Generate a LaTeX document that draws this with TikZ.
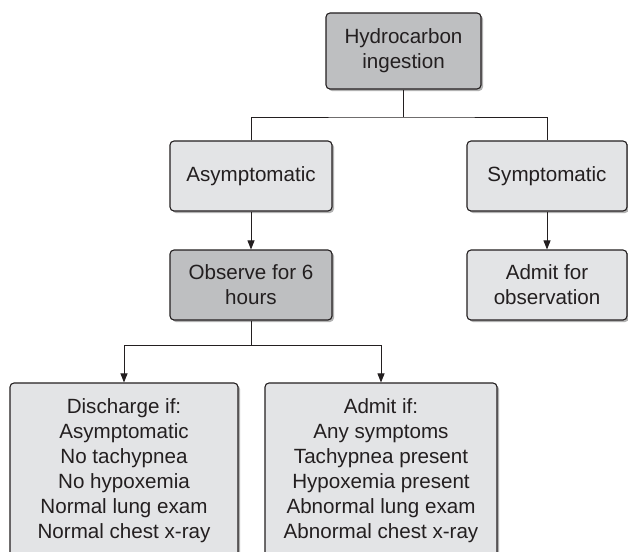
\documentclass[tikz,border=0pt]{standalone}
\usepackage{fontspec}
\setmainfont{Liberation Sans}
\usetikzlibrary{arrows.meta,shadows}
\definecolor{lightbox}{RGB}{227,228,230}
\definecolor{darkbox}{RGB}{190,191,193}
\definecolor{edge}{RGB}{35,31,32}
\begin{document}
\begin{tikzpicture}[x=1pt,y=-1pt,
  box/.style={draw=edge, line width=1.1pt, rounded corners=4pt, fill=lightbox,
    align=center, inner sep=0pt, text=edge,
    font=\fontsize{20.6}{25}\selectfont,
    drop shadow={shadow xshift=2pt,shadow yshift=-2pt,fill=black,opacity=0.3}},
  darkfill/.style={fill=darkbox},
  conn/.style={draw=edge, line width=0.9pt},
  arr/.style={conn,-{Triangle[length=9pt,width=7pt]}}]
\useasboundingbox (0,0) rectangle (628,551);
\fill[white] (0,0) rectangle (628,551);
\clip (0,0) rectangle (628,551);
\node[box,darkfill,minimum width=155pt,minimum height=76pt] (hc) at (403.5,51) {Hydrocarbon\\ingestion};
\node[box,minimum width=162pt,minimum height=70pt] (asym) at (251,176) {Asymptomatic};
\node[box,minimum width=160pt,minimum height=70pt] (sym) at (547,176) {Symptomatic};
\node[box,darkfill,minimum width=162pt,minimum height=70pt] (obs) at (251,285) {Observe for 6\\hours};
\node[box,minimum width=160pt,minimum height=70pt] (admobs) at (547,285) {Admit for\\observation};
\node[box,minimum width=228pt,minimum height=175pt] (dis) at (124,470.5) {Discharge if:\\Asymptomatic\\No tachypnea\\No hypoxemia\\Normal lung exam\\Normal chest x-ray};
\node[box,minimum width=232pt,minimum height=175pt] (adm) at (381,470.5) {Admit if:\\Any symptoms\\Tachypnea present\\Hypoxemia present\\Abnormal lung exam\\Abnormal chest x-ray};
\coordinate (j1) at (403.5,117);
\coordinate (j2) at (251,345);
\draw[conn] (hc.south) -- (j1);
\draw[conn] (asym.north) |- (j1) -| (sym.north);
\draw[arr] (asym) -- (obs);
\draw[arr] (sym) -- (admobs);
\draw[conn] (obs.south) -- (j2);
\draw[arr] (j2) -| (dis.north);
\draw[arr] (j2) -| (adm.north);
\end{tikzpicture}
\end{document}
